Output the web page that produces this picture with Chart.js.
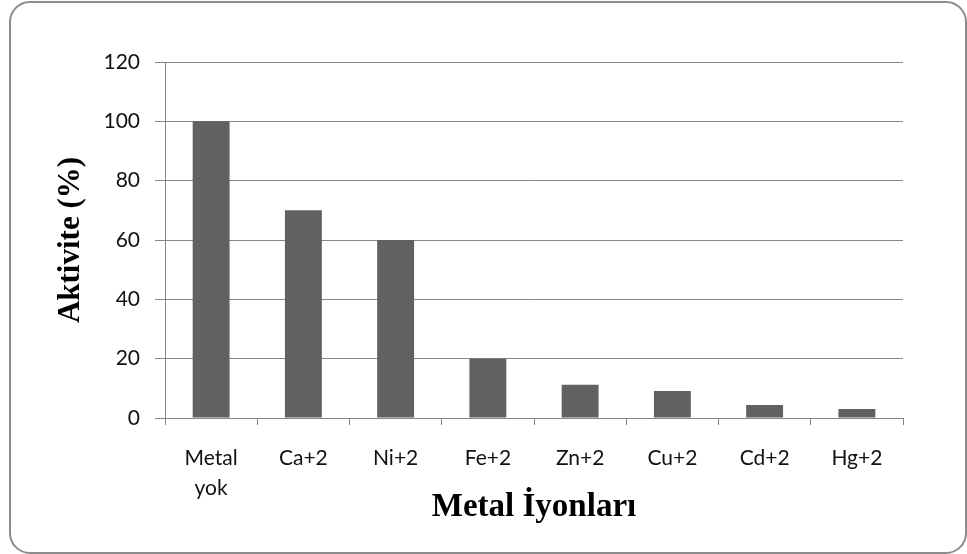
<!DOCTYPE html>
<html>
<head>
<meta charset="utf-8">
<script src="https://cdn.jsdelivr.net/npm/chart.js@4"></script>
<style>
  html, body { margin: 0; padding: 0; background: #ffffff; }
  #wrap { position: relative; width: 967px; height: 554px; }
</style>
</head>
<body>
<div id="wrap"><canvas id="c" width="967" height="554"></canvas></div>
<script>
// Metal ions and remaining enzyme activity (%)
const categories = [['Metal', 'yok'], 'Ca+2', 'Ni+2', 'Fe+2', 'Zn+2', 'Cu+2', 'Cd+2', 'Hg+2'];
const activity = [100, 70, 60, 20, 11.2, 9.1, 4.4, 3.0];
const yTicks = [0, 20, 40, 60, 80, 100, 120];

const axisGrey = '#868686';
const barGrey = '#616161';
const labelFont = { family: 'Lato, "Open Sans", sans-serif', size: 21 };
const yTitleFont = { family: '"Liberation Serif", "Times New Roman", serif', size: 31, weight: 'bold' };
const xTitleFont = { family: '"Liberation Serif", "Times New Roman", serif', size: 33, weight: 'bold' };

// Rounded frame around the whole chart
const framePlugin = {
  id: 'frame',
  beforeDraw(chart) {
    const ctx = chart.ctx;
    ctx.save();
    ctx.fillStyle = '#ffffff';
    ctx.fillRect(0, 0, chart.width, chart.height);
    ctx.strokeStyle = '#8c8c8c';
    ctx.lineWidth = 2;
    ctx.beginPath();
    ctx.roundRect(10, 2, 956, 551, 20);
    ctx.stroke();
    ctx.restore();
  }
};

new Chart(document.getElementById('c'), {
  type: 'bar',
  data: {
    labels: categories,
    datasets: [{
      data: activity,
      backgroundColor: barGrey,
      borderWidth: 0,
      categoryPercentage: 1.0,
      barPercentage: 0.4
    }]
  },
  options: {
    responsive: false,
    animation: false,
    events: [],
    layout: { padding: { top: 62, right: 64, left: 0, bottom: 0 } },
    plugins: {
      legend: { display: false },
      tooltip: { enabled: false }
    },
    scales: {
      x: {
        afterFit(scale) { scale.height = 136; },
        grid: {
          offset: true,
          drawOnChartArea: false,
          drawTicks: true,
          tickLength: 7,
          color: axisGrey,
          lineWidth: 1
        },
        border: { display: true, color: axisGrey, width: 1 },
        ticks: {
          color: '#111111',
          font: { ...labelFont, lineHeight: 1.43 },
          padding: 18,
          maxRotation: 0,
          autoSkip: false
        },
        title: {
          display: true,
          text: 'Metal İyonları',
          color: '#000000',
          font: xTitleFont,
          padding: { top: 0, bottom: 27 }
        }
      },
      y: {
        min: 0,
        max: 120,
        afterFit(scale) { scale.width = 165; },
        afterBuildTicks(scale) { scale.ticks = yTicks.map(v => ({ value: v })); },
        grid: {
          drawTicks: true,
          tickLength: 10,
          color: axisGrey,
          lineWidth: 1
        },
        border: { display: true, color: axisGrey, width: 1 },
        ticks: {
          color: '#111111',
          font: labelFont,
          padding: 15
        },
        title: {
          display: true,
          text: 'Aktivite (%)',
          color: '#000000',
          font: yTitleFont,
          padding: { top: 52, bottom: 0 }
        }
      }
    }
  },
  plugins: [framePlugin]
});
</script>
</body>
</html>
